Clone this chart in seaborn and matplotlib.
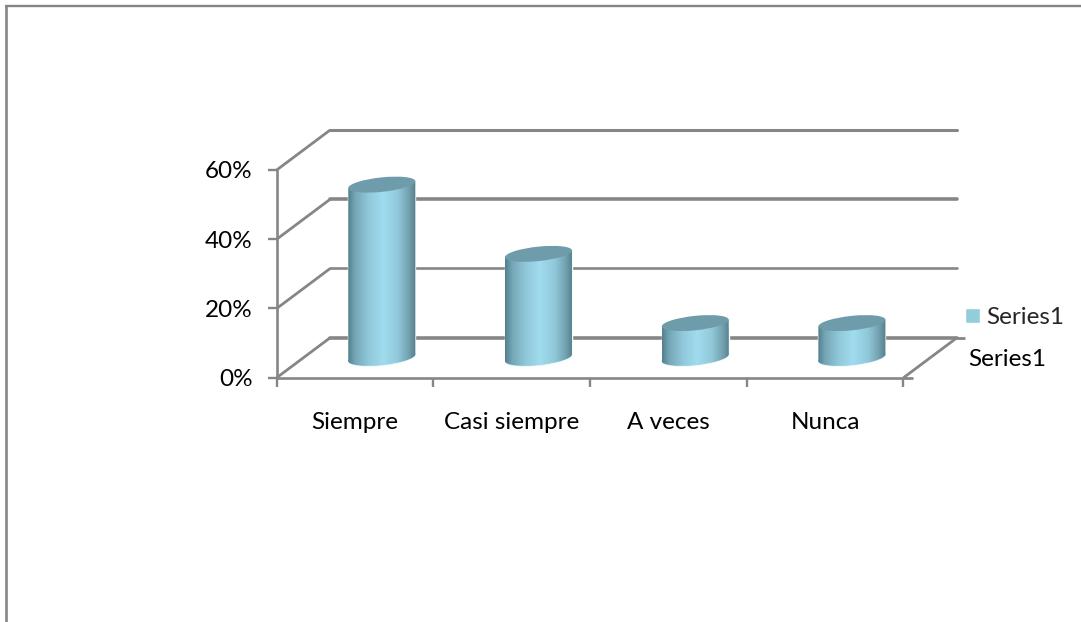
import numpy as np
import seaborn as sns
import matplotlib.pyplot as plt
from matplotlib.colors import LinearSegmentedColormap
from matplotlib.lines import Line2D
from matplotlib.patches import Ellipse, Polygon
from matplotlib.ticker import PercentFormatter
from matplotlib.transforms import Affine2D, ScaledTranslation

categories = ['Siempre', 'Casi siempre', 'A veces', 'Nunca']
values = [0.5, 0.3, 0.1, 0.1]
y_ticks = [0, 0.2, 0.4, 0.6]
series_name = 'Series1'

W, H = 1081, 622
GREY = '#868686'
BAR = '#92cddc'
# plot box in pixels, depth is the shift of the back wall
LEFT, RIGHT, FLOOR, TOP = 276.7, 903.5, 377.7, 170
DX, DY = 53.5, 40
FS = 17.5

sns.set_theme(style='white')
plt.rcParams['font.family'] = ['Lato', 'DejaVu Sans']
plt.rcParams['font.size'] = FS


def fx(x):
    return x / W


def fy(y):
    return 1 - y / H


def box(dx, dy):
    return [fx(LEFT + dx), fy(FLOOR - dy), (RIGHT - LEFT) / W, (FLOOR - TOP) / H]


def fig_line(x0, y0, x1, y1, lw=2.0):
    fig.add_artist(Line2D([fx(x0), fx(x1)], [fy(y0), fy(y1)], color=GREY, lw=lw,
                          solid_capstyle='butt', transform=fig.transFigure))


fig = plt.figure(figsize=(W / 100, H / 100), dpi=100, facecolor='white')

# back wall with the gridlines
ax_back = fig.add_axes(box(DX, DY), zorder=1)
ax_back.set_xlim(-0.5, 3.5)
ax_back.set_ylim(0, 0.6)
ax_back.set_yticks(y_ticks)
ax_back.set_xticks([])
ax_back.tick_params(left=False, labelleft=False)
ax_back.patch.set_visible(False)
sns.despine(ax=ax_back, left=True, bottom=True)
for y, lw in zip(y_ticks, [2.6, 1.9, 2.6, 2.2]):
    ax_back.axhline(y, color=GREY, lw=lw, clip_on=False)

# front axes, holds ticks and labels
ax = fig.add_axes(box(0, 0), zorder=2)
ax.set_xlim(-0.5, 3.5)
ax.set_ylim(0, 0.6)
ax.patch.set_visible(False)
ax.set_xticks(range(len(categories)), categories)
ax.set_xticks(np.arange(-0.5, 4), minor=True)
ax.set_yticks(y_ticks)
ax.yaxis.set_major_formatter(PercentFormatter(1, decimals=0))
ax.tick_params(axis='x', which='major', length=0, pad=25, labelcolor='black', labelsize=FS)
ax.tick_params(axis='x', which='minor', length=6.5, width=1.7, color=GREY, bottom=True)
ax.tick_params(axis='y', length=6.5, width=1.7, color=GREY, pad=11, left=True,
               labelcolor='black', labelsize=FS)
sns.despine(ax=ax)
for side in ['left', 'bottom']:
    ax.spines[side].set_color(GREY)
    ax.spines[side].set_linewidth(1.9)

# cylinders sit half way into the depth
ax_bars = fig.add_axes(box(DX / 2, DY / 2), zorder=3)
ax_bars.patch.set_visible(False)
sns.barplot(x=categories, y=values, color=BAR, width=0.428, saturation=1,
            label=series_name, ax=ax_bars, zorder=2)
ax_bars.set_xlim(-0.5, 3.5)
ax_bars.set_ylim(0, 0.6)
ax_bars.axis('off')

shade = LinearSegmentedColormap.from_list('cyl', [
    (0, '#527f8c'), (0.1, '#74a5b4'), (0.3, '#90c8d9'), (0.52, '#a0dcef'),
    (0.74, '#90c8d9'), (0.9, '#729fad'), (1, '#54808d')])
grad = np.linspace(0, 1, 256).reshape(1, -1)
# ellipse size in inches, sheared so its ends stay on the cylinder sides
EL_W, EL_H, SLOPE = 0.67, 0.145, 0.1
rise = (EL_W * 100 * SLOPE / 2) * 0.6 / (FLOOR - TOP)  # half the tilt, in data units


def cap(x, y, color, dy=0.0, z=3):
    tr = (Affine2D().skew(0, np.arctan(SLOPE)) + fig.dpi_scale_trans
          + ScaledTranslation(x, y, ax_bars.transData))
    e = Ellipse((0, dy), EL_W, EL_H, transform=tr, facecolor=color,
                edgecolor='none', clip_on=False, zorder=z)
    ax_bars.add_patch(e)
    return e


for p in list(ax_bars.patches):
    x0, w, v = p.get_x(), p.get_width(), p.get_height()
    xc = x0 + w / 2
    x1 = x0 + w
    # keep the flat bar inside the slanted body
    p.set_y(rise)
    p.set_height(v - 2 * rise)
    body = Polygon([(x0, -rise), (x0, v - rise), (x1, v + rise), (x1, rise)],
                   closed=True, facecolor='none', edgecolor='none',
                   transform=ax_bars.transData)
    # pale rim under the base, then shaded body and base, then the darker lid
    cap(xc, 0, '#d6f1f9', dy=-0.008, z=1)
    base = cap(xc, 0, BAR, z=2)
    for clip in [body, base]:
        im = ax_bars.imshow(grad, extent=(x0, x1, -0.1, v + 0.02), cmap=shade,
                            aspect='auto', interpolation='bilinear', zorder=3)
        im.set_clip_box(fig.bbox)
        im.set_clip_path(clip)
    cap(xc, v, '#6f9cab', z=4)
ax_bars.set_xlim(-0.5, 3.5)
ax_bars.set_ylim(0, 0.6)

# diagonals joining front and back
for y in y_ticks:
    py = FLOOR - (FLOOR - TOP) * y / 0.6
    fig_line(LEFT, py, LEFT + DX, py - DY)
fig_line(RIGHT, FLOOR, RIGHT + DX, FLOOR - DY)
fig_line(RIGHT, FLOOR, RIGHT + 9, FLOOR)
fig_line(RIGHT + DX, FLOOR - DY, RIGHT + DX + 8, FLOOR - DY)

# outer chart frame
fig_line(4.5, 6, W, 6, lw=1.7)
fig_line(6, 5, 6, H, lw=1.9)

ax_bars.legend(loc='center left', bbox_to_anchor=(fx(958), fy(317.5)),
               bbox_transform=fig.transFigure, frameon=False, fontsize=FS,
               handlelength=0.62, handleheight=0.62, handletextpad=0.25,
               borderpad=0.3, borderaxespad=0)
fig.text(fx(968), fy(360), series_name, ha='left', va='center', color='black')

fig.savefig('out.png', dpi=100)
